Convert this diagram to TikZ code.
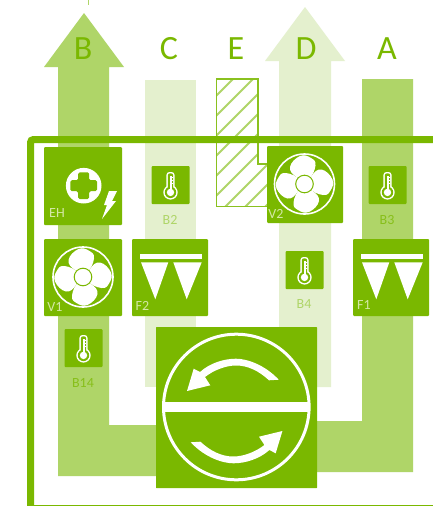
\documentclass[tikz,border=0pt]{standalone}
\usepackage{fontspec}
\setmainfont{Carlito}
\definecolor{gd}{HTML}{7AB800}
\definecolor{gm}{HTML}{AFD568}
\definecolor{gl}{HTML}{E4F0CE}
\definecolor{gt}{HTML}{D4E8A6}
\newcommand{\iconbox}[4]{\fill[gd,rounded corners=1pt] (#1,#2) rectangle (#3,#4);}
\newcommand{\fanicon}[2]{%
 \begin{scope}[shift={(#1,#2)}]
  \draw[white,line width=1.6pt] (0,0) circle (30);
  \foreach \r in {0,90,180,270}{
   \fill[white,rotate=\r] plot[smooth cycle,tension=.75] coordinates {(4,-5) (-8,-7) (-14.5,-17) (-4.5,-28) (6.5,-26) (11,-18.5)};
  }
  \fill[white,draw=gd,line width=1pt] (0,0) circle (8.8);
 \end{scope}}
\newcommand{\filtericon}[2]{%
 \begin{scope}[shift={(#1,#2)}]
  \fill[white] (8,15.3) rectangle (70,20);
  \fill[white] (9,23.3) -- (36.3,23.3) -- (23.3,60.3) -- cycle;
  \fill[white] (41.3,23.3) -- (69.7,23.3) -- (54.7,60.3) -- cycle;
 \end{scope}}
\newcommand{\thermo}[2]{%
 \begin{scope}[shift={(#1,#2)}]
  \fill[gd,rounded corners=1pt] (-19,-19) rectangle (19,19);
  \fill[white,rounded corners=3pt] (-4.1,-13) rectangle (4.1,6);
  \fill[white] (0,7.4) circle (7.2);
  \fill[gd,rounded corners=2pt] (-2.7,-11.6) rectangle (2.7,6);
  \fill[gd] (0,7.4) circle (5.7);
  \fill[white] (0,7.4) circle (3.7);
  \fill[white] (-1,-9) rectangle (1,6);
  \fill[white] (0,-8) rectangle (2.7,-7.1) (0,-5) rectangle (2.7,-4.1) (0,-2) rectangle (2.7,-1.1);
 \end{scope}}
\tikzset{
 letter/.style={text=gd,font=\fontsize{34}{34}\selectfont,inner sep=0pt,anchor=center},
 boxlabel/.style={text=gt,font=\fontsize{14}{14}\selectfont,inner sep=0pt,anchor=center},
 senslabel/.style={font=\fontsize{14}{14}\selectfont,inner sep=0pt,anchor=center},
}
\begin{document}
\begin{tikzpicture}[x=1pt,y=-1pt]
\useasboundingbox (0,0) rectangle (433,506);
\fill[white] (0,0) rectangle (433,506);
\fill[gm] (87.6,0) rectangle (88.4,5);
% air paths
\fill[gm] (84,13) -- (124,67) -- (109,67) -- (109,425) -- (160,425) -- (160,476) -- (58,476) -- (58,67) -- (44,67) -- cycle;
\fill[gl] (145,80) rectangle (196,387);
\fill[gl] (305,7) -- (345,61) -- (331,61) -- (331,387) -- (279,387) -- (279,61) -- (265,61) -- cycle;
\fill[gm] (362,79) -- (413,79) -- (413,472) -- (310,472) -- (310,421) -- (362,421) -- cycle;
% hatched duct
\begin{scope}
 \clip (216,79) -- (258,79) -- (258,164) -- (270,164) -- (270,206) -- (216,206) -- cycle;
 \foreach \k in {0,...,11}{
  \draw[gm,line width=2pt] (200,{92+\k*20}) -- (290,{2+\k*20});
 }
\end{scope}
\draw[gd!70!gm,line width=1.2pt] (270,164) -- (258,164) -- (258,79) -- (216.6,79) -- (216.6,206.5) -- (270,206.5);
% frame
\draw[gd,line width=7pt,rounded corners=3pt] (433,139.5) -- (30.5,139.5) -- (30.5,506);
\fill[gd] (34,504.8) rectangle (433,506);
% letters
\node[letter] (lB) at (83,49) {B};
\node[letter] (lC) at (169,49) {C};
\node[letter] (lE) at (236,49) {E};
\node[letter] (lD) at (306,49) {D};
\node[letter] (lA) at (387,49) {A};
% EH
\iconbox{44}{147}{122}{225}
\fill[white] (83.7,185.7) circle (17.8);
\fill[gd,rounded corners=1.5pt] (78.2,172.4) -- (89.2,172.4) -- (89.2,180.2) -- (97,180.2) -- (97,191.2) -- (89.2,191.2) -- (89.2,199) -- (78.2,199) -- (78.2,191.2) -- (70.4,191.2) -- (70.4,180.2) -- (78.2,180.2) -- cycle;
\fill[white] (109,191) -- (117,191) -- (112,201) -- (116,201) -- (102,219) -- (107,205) -- (104,205) -- cycle;
\node[boxlabel] (tEH) at (57,213) {EH};
% V1
\iconbox{44}{239}{122}{316}
\fanicon{83}{277}
\node[boxlabel] (tV1) at (55,307) {V1};
% F2
\iconbox{132}{239}{208}{316}
\filtericon{132}{239}
\node[boxlabel] (tF2) at (142.5,306) {F2};
% V2
\iconbox{267}{146}{343}{223}
\fanicon{304.5}{184}
\node[boxlabel] (tV2) at (276,214) {V2};
% F1
\iconbox{353}{239}{429}{316}
\filtericon{353}{239}
\node[boxlabel] (tF1) at (364,305) {F1};
% sensors
\thermo{170.5}{185}
\node[senslabel,text=gm] (tB2) at (170,220) {B2};
\thermo{387.5}{185}
\node[senslabel,text=gd!75!gm] (tB3) at (387,220) {B3};
\thermo{304.5}{270}
\node[senslabel,text=gm] (tB4) at (304,304) {B4};
\thermo{83.5}{348}
\node[senslabel,text=gd!75!gm] (tB14) at (83,383) {B14};
% heat exchanger
\fill[gd,rounded corners=.5pt] (156,327) rectangle (317,488);
\begin{scope}[shift={(156,327)}]
 \draw[white,line width=3pt] (80.3,80) circle (72.8);
 \fill[white] (7,75.3) rectangle (154,85.3);
 \fill[white] (122.7,52.7) .. controls (108,37) and (90,31.7) .. (80,31.7) .. controls (68,31.7) and (54,36) .. (44,45) -- (37.7,41.7) -- (31,64) -- (54.3,58.3) -- (49,50) .. controls (58,43) and (70,38.5) .. (80,38.5) .. controls (92,38.5) and (103,44) .. (113,53.3) -- cycle;
 \fill[white] (34.7,115.3) .. controls (49.4,131) and (67.4,136.3) .. (77.4,136.3) .. controls (89.4,136.3) and (103.4,132) .. (113.4,123) -- (119.7,126.3) -- (126.4,104) -- (103,109.7) -- (108.4,118) .. controls (99.4,125) and (87.4,129.5) .. (77.4,129.5) .. controls (65.4,129.5) and (54.4,124) .. (44.4,114.7) -- cycle;
\end{scope}
\end{tikzpicture}
\end{document}
